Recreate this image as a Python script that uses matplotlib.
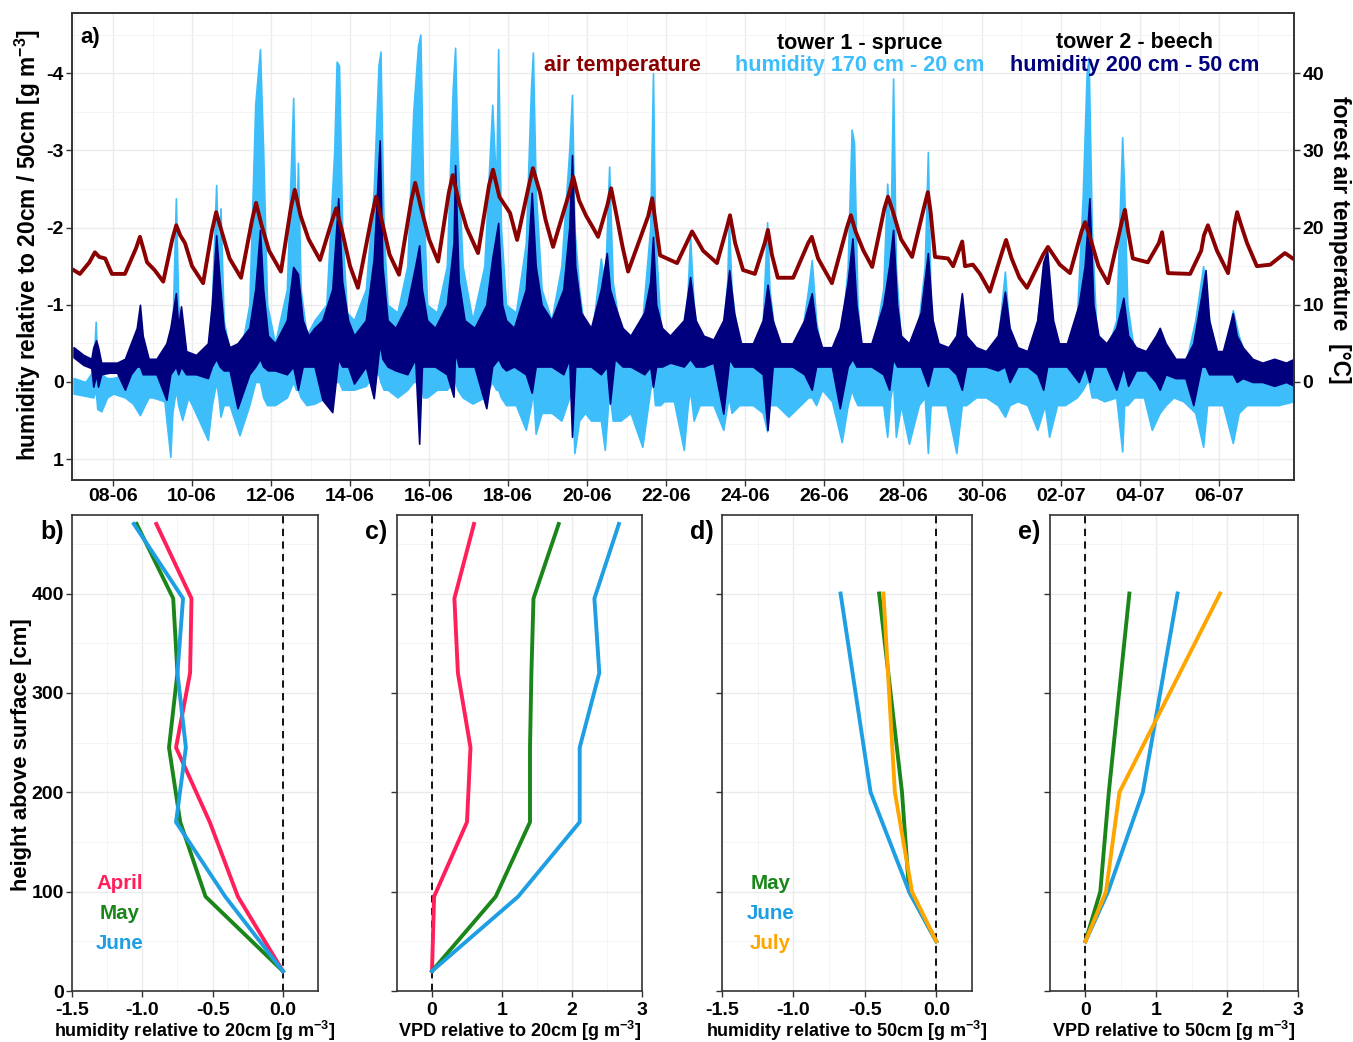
import matplotlib
matplotlib.use('Agg')
import matplotlib.pyplot as plt
import numpy as np

plt.rcParams['font.family'] = ['Liberation Sans', 'DejaVu Sans']
plt.rcParams['font.weight'] = 'bold'
plt.rcParams['axes.labelweight'] = 'bold'
plt.rcParams['mathtext.default'] = 'regular'

# ---------------- panel a : time series (days since 07-06) ----------------
date_ticks = [1, 3, 5, 7, 9, 11, 13, 15, 17, 19, 21, 23, 25, 27, 29]
date_labels = ['08-06', '10-06', '12-06', '14-06', '16-06', '18-06', '20-06', '22-06',
               '24-06', '26-06', '28-06', '30-06', '02-07', '04-07', '06-07']

# forest air temperature [°C]
temp_t = [0.0, 0.16, 0.4, 0.54, 0.65, 0.8, 0.97,
          1.3, 1.58, 1.68, 1.78, 1.86, 2.05,
          2.27, 2.5, 2.6, 2.7, 2.82, 3.0,
          3.28, 3.5, 3.61, 3.75, 3.95,
          4.24, 4.52, 4.62, 4.75, 4.95,
          5.25, 5.5, 5.6, 5.75, 5.95,
          6.24, 6.55, 6.65, 6.8, 7.0,
          7.2, 7.55, 7.66, 7.8, 8.0,
          8.24, 8.55, 8.65, 8.8, 9.0,
          9.23, 9.5, 9.6, 9.75, 9.95,
          10.24, 10.52, 10.62, 10.78, 11.05,
          11.23, 11.53, 11.63, 11.81, 11.95,
          12.14, 12.55, 12.65, 12.8, 12.98, 13.15,
          13.28, 13.52, 13.61, 13.75, 13.9,
          14.04, 14.55, 14.65, 14.85,
          15.28, 15.66, 15.94,
          16.29, 16.54, 16.62, 16.75, 16.95,
          17.25, 17.5, 17.58, 17.68, 17.83,
          18.22, 18.6, 18.69, 18.85,
          19.2, 19.58, 19.68, 19.8, 20.0,
          20.22, 20.53, 20.62, 20.75, 20.95,
          21.23, 21.55, 21.63, 21.7, 21.81,
          22.14, 22.27, 22.5, 22.57, 22.77, 22.95,
          23.2, 23.52, 23.61, 23.75, 23.95,
          24.14, 24.55, 24.67, 24.97,
          25.23, 25.52, 25.61, 25.75, 25.95,
          26.19, 26.55, 26.62, 26.7, 26.82,
          27.2, 27.48, 27.56, 27.64, 27.71,
          28.27, 28.55, 28.62, 28.72, 28.95,
          29.23, 29.4, 29.46, 29.55, 29.71, 29.96,
          30.3, 30.67, 30.87]
temp_v = [14.5, 14.0, 15.5, 16.8, 16.2, 16.0, 14.0,
          14.0, 17.3, 18.8, 17.0, 15.5, 14.5,
          13.0, 18.5, 20.3, 19.0, 18.0, 15.0,
          12.8, 19.5, 22.0, 19.5, 16.0,
          13.5, 21.0, 23.2, 20.5, 17.0,
          14.3, 22.5, 24.9, 21.5, 18.5,
          15.8, 21.0, 22.5, 19.5, 15.0,
          12.2, 21.5, 24.0, 21.0, 16.5,
          13.9, 23.5, 25.8, 22.5, 18.5,
          15.6, 24.5, 26.8, 23.5, 20.0,
          16.7, 25.5, 27.5, 24.0, 21.9,
          18.4, 25.5, 27.7, 24.5, 21.0,
          17.5, 24.5, 26.6, 23.5, 21.5, 20.0,
          18.8, 23.0, 25.1, 21.5, 17.5,
          14.3, 21.5, 23.8, 16.4,
          15.4, 19.5, 17.0,
          15.4, 20.0, 21.6, 18.0, 14.5,
          14.0, 18.0, 19.7, 16.5, 13.5,
          13.5, 18.0, 18.8, 16.0,
          12.8, 20.0, 21.6, 19.5, 17.0,
          14.9, 22.5, 24.0, 22.0, 18.5,
          16.2, 23.0, 24.6, 22.0, 16.2,
          16.0, 15.0, 18.2, 15.0, 15.2, 14.0,
          11.7, 17.0, 18.4, 16.0, 13.5,
          12.2, 16.5, 17.5, 15.2,
          14.1, 19.5, 20.7, 18.5, 15.0,
          12.8, 21.0, 22.3, 19.5, 16.0,
          15.5, 18.0, 19.4, 16.5, 14.1,
          14.0, 17.0, 19.0, 20.3, 17.0,
          14.1, 20.5, 22.0, 20.5, 18.0, 15.0,
          15.2, 16.7, 16.0]

# tower 1 (spruce): humidity 170 cm - 20 cm, upper / lower envelope
spruce_t = [0.0, 0.3, 0.5, 0.56, 0.6, 0.7, 0.85,
            1.0, 1.3, 1.5, 1.68, 1.8, 1.9,
            2.0, 2.3, 2.45, 2.5, 2.59, 2.65, 2.75, 2.9,
            3.0, 3.4, 3.5, 3.61, 3.67, 3.72, 3.8, 3.95,
            4.2, 4.45, 4.6, 4.72, 4.8, 4.9,
            5.1, 5.4, 5.56, 5.63, 5.68, 5.75, 5.9,
            6.1, 6.4, 6.6, 6.66, 6.72, 6.8, 6.92,
            7.1, 7.4, 7.6, 7.72, 7.77, 7.85, 7.95,
            8.2, 8.45, 8.6, 8.72, 8.78, 8.85, 8.95,
            9.2, 9.45, 9.6, 9.66, 9.72, 9.85,
            10.1, 10.4, 10.6, 10.7, 10.75, 10.82, 10.95,
            11.2, 11.45, 11.58, 11.63, 11.7, 11.85,
            12.1, 12.35, 12.55, 12.62, 12.68, 12.8, 12.95,
            13.1, 13.35, 13.45, 13.56, 13.65, 13.85,
            14.1, 14.4, 14.6, 14.67, 14.72, 14.85, 14.95,
            15.2, 15.45, 15.55, 15.61, 15.7, 15.85,
            16.2, 16.45, 16.55, 16.59, 16.66, 16.85,
            17.2, 17.45, 17.56, 17.62, 17.8,
            18.1, 18.4, 18.6, 18.69, 18.8, 18.95,
            19.2, 19.45, 19.6, 19.7, 19.76, 19.85, 19.95,
            20.2, 20.5, 20.6, 20.68, 20.75, 20.82, 20.95,
            21.15, 21.4, 21.55, 21.63, 21.7, 21.85,
            22.1, 22.35, 22.49, 22.6, 22.85,
            23.1, 23.4, 23.58, 23.7, 23.9,
            24.15, 24.4, 24.59, 24.7, 24.9,
            25.1, 25.4, 25.55, 25.65, 25.7, 25.78, 25.9,
            26.1, 26.4, 26.55, 26.6, 26.68, 26.85,
            27.1, 27.3, 27.5, 27.65, 27.85,
            28.1, 28.4, 28.6, 28.7, 28.9,
            29.1, 29.35, 29.5, 29.7, 29.9,
            30.2, 30.5, 30.9]
spruce_hi = [-0.05, 0.0, -0.15, -0.78, -0.2, -0.1, -0.05,
             -0.05, -0.1, -0.2, -0.3, -0.25, -0.1,
             -0.1, -0.2, -0.3, -0.6, -2.38, -1.0, -0.5, -0.2,
             -0.2, -0.4, -1.0, -2.55, -1.5, -2.25, -0.8, -0.4,
             -0.3, -1.0, -3.6, -4.31, -3.0, -1.0,
             -0.5, -1.2, -3.68, -1.8, -2.84, -1.2, -0.6,
             -0.8, -1.0, -3.0, -4.15, -4.1, -2.0, -0.9,
             -0.8, -1.2, -2.5, -4.1, -4.28, -2.0, -1.0,
             -0.9, -1.5, -3.5, -4.35, -4.5, -2.5, -1.0,
             -0.9, -1.5, -3.8, -4.33, -3.0, -1.5,
             -0.8, -1.5, -3.59, -2.5, -4.31, -2.0, -1.0,
             -0.9, -1.8, -3.8, -4.27, -2.5, -1.2,
             -0.8, -1.5, -3.0, -3.72, -2.0, -1.2, -0.6,
             -0.5, -1.6, -1.2, -2.79, -1.3, -0.6,
             -0.4, -0.8, -2.0, -4.0, -2.0, -0.8, -0.3,
             -0.2, -0.5, -1.2, -1.88, -1.0, -0.4,
             -0.2, -0.7, -1.3, -2.1, -1.2, -0.4,
             -0.2, -0.8, -2.07, -1.2, -0.4,
             -0.2, -0.5, -1.2, -1.58, -0.8, -0.3,
             -0.2, -0.6, -1.5, -3.27, -3.1, -1.0, -0.4,
             -0.3, -1.2, -2.57, -1.8, -3.93, -1.5, -0.5,
             -0.4, -0.8, -1.5, -2.98, -1.0, -0.4,
             -0.2, -0.5, -1.0, -0.5, -0.2,
             -0.2, -0.5, -1.43, -0.6, -0.2,
             -0.2, -0.8, -1.6, -0.8, -0.3,
             -0.2, -0.8, -2.4, -4.0, -4.2, -2.0, -0.6,
             -0.3, -0.8, -3.17, -2.5, -1.0, -0.4,
             -0.2, -0.3, -0.7, -0.4, -0.2,
             -0.1, -0.8, -1.5, -1.0, -0.3,
             -0.2, -0.93, -0.6, -0.3, -0.1,
             0.0, -0.1, 0.0]
spruce_lo = [0.15, 0.18, 0.2, 0.1, 0.35, 0.38, 0.2,
             0.15, 0.2, 0.28, 0.43, 0.3, 0.2,
             0.2, 0.25, 0.97, 0.4, 0.1, 0.3, 0.49, 0.2,
             0.3, 0.75, 0.3, 0.0, 0.2, 0.45, 0.3, 0.3,
             0.69, 0.3, 0.0, 0.0, 0.2, 0.3,
             0.3, 0.2, 0.0, 0.1, 0.1, 0.2, 0.3,
             0.28, 0.2, 0.0, 0.0, 0.0, 0.1, 0.1,
             0.1, 0.05, -0.1, -0.1, 0.0, 0.1, 0.1,
             0.2, 0.1, 0.0, 0.0, 0.0, 0.2, 0.2,
             0.1, 0.1, 0.0, 0.0, 0.1, 0.2,
             0.28, 0.2, 0.0, 0.1, 0.1, 0.2, 0.3,
             0.3, 0.62, 0.3, 0.1, 0.67, 0.4,
             0.4, 0.5, 0.2, 0.1, 0.92, 0.5, 0.4,
             0.5, 0.5, 0.88, 0.1, 0.5, 0.5,
             0.4, 0.84, 0.1, 0.0, 0.3, 0.3, 0.25,
             0.25, 0.88, 0.3, 0.1, 0.5, 0.3,
             0.3, 0.62, 0.3, 0.2, 0.4, 0.3,
             0.3, 0.4, 0.64, 0.3, 0.3,
             0.45, 0.3, 0.2, 0.2, 0.3, 0.1,
             0.25, 0.78, 0.3, 0.1, 0.2, 0.3, 0.3,
             0.3, 0.3, 0.71, 0.2, 0.0, 0.71, 0.3,
             0.8, 0.3, 0.2, 0.92, 0.3, 0.3,
             0.3, 0.92, 0.3, 0.3, 0.2,
             0.2, 0.3, 0.45, 0.3, 0.25,
             0.3, 0.62, 0.3, 0.71, 0.3,
             0.3, 0.2, 0.1, 0.0, 0.0, 0.2, 0.2,
             0.25, 0.2, 0.9, 0.3, 0.3, 0.2,
             0.2, 0.62, 0.4, 0.3, 0.2,
             0.25, 0.4, 0.84, 0.3, 0.3,
             0.3, 0.79, 0.4, 0.3, 0.3,
             0.3, 0.3, 0.25]

# tower 2 (beech): humidity 200 cm - 50 cm, upper / lower envelope
beech_t = [0.0, 0.25, 0.45, 0.5, 0.57, 0.62, 0.7, 0.9,
           1.1, 1.3, 1.45, 1.6, 1.68, 1.75, 1.9,
           2.1, 2.35, 2.45, 2.59, 2.65, 2.72, 2.85,
           3.1, 3.4, 3.5, 3.61, 3.7, 3.8, 3.95,
           4.15, 4.45, 4.6, 4.72, 4.8, 4.92,
           5.1, 5.4, 5.56, 5.68, 5.8, 5.95,
           6.1, 6.3, 6.55, 6.7, 6.8, 6.95,
           7.1, 7.4, 7.6, 7.75, 7.82, 7.95,
           8.15, 8.45, 8.65, 8.75, 8.82, 8.95,
           9.15, 9.45, 9.62, 9.66, 9.75, 9.9,
           10.15, 10.45, 10.6, 10.75, 10.85, 10.95,
           11.15, 11.45, 11.6, 11.7, 11.85,
           12.1, 12.4, 12.55, 12.62, 12.7, 12.85,
           13.1, 13.35, 13.5, 13.58, 13.7, 13.9,
           14.1, 14.45, 14.6, 14.67, 14.75, 14.9,
           15.1, 15.45, 15.61, 15.75, 15.95,
           16.2, 16.45, 16.6, 16.72, 16.9,
           17.2, 17.45, 17.57, 17.7, 17.9,
           18.2, 18.5, 18.69, 18.8, 18.95,
           19.2, 19.4, 19.6, 19.72, 19.82, 19.95,
           20.2, 20.5, 20.65, 20.75, 20.85, 20.95,
           21.15, 21.45, 21.63, 21.75, 21.9,
           22.15, 22.35, 22.49, 22.6, 22.85,
           23.1, 23.4, 23.58, 23.7, 23.9,
           24.15, 24.4, 24.55, 24.65, 24.8, 24.95,
           25.15, 25.45, 25.6, 25.72, 25.82, 25.95,
           26.15, 26.4, 26.58, 26.7, 26.9,
           27.15, 27.4, 27.5, 27.65, 27.9,
           28.15, 28.35, 28.55, 28.66, 28.75, 28.95,
           29.1, 29.35, 29.45, 29.6, 29.85,
           30.1, 30.4, 30.7, 30.9]
beech_hi = [-0.45, -0.35, -0.3, -0.45, -0.54, -0.45, -0.25, -0.25,
            -0.25, -0.3, -0.5, -0.7, -1.0, -0.6, -0.3,
            -0.3, -0.5, -0.7, -1.15, -0.7, -0.98, -0.4,
            -0.35, -0.5, -1.0, -1.9, -1.3, -0.7, -0.45,
            -0.5, -0.7, -1.2, -1.97, -1.2, -0.6,
            -0.5, -0.8, -1.49, -1.4, -0.8, -0.6,
            -0.7, -0.8, -1.2, -2.38, -1.3, -0.8,
            -0.6, -0.8, -1.6, -3.13, -1.5, -0.8,
            -0.7, -1.0, -1.5, -1.77, -1.2, -0.8,
            -0.7, -1.0, -1.8, -2.81, -1.3, -0.8,
            -0.7, -1.0, -1.6, -2.06, -1.0, -0.8,
            -0.7, -1.2, -2.45, -1.5, -1.0,
            -0.8, -1.2, -2.0, -2.94, -1.5, -0.9,
            -0.7, -1.2, -1.67, -1.2, -1.0, -0.7,
            -0.6, -0.9, -1.3, -1.88, -1.0, -0.7,
            -0.6, -0.8, -1.36, -0.8, -0.6,
            -0.55, -0.8, -1.45, -0.9, -0.5,
            -0.5, -0.8, -1.26, -0.8, -0.5,
            -0.5, -0.8, -1.15, -0.7, -0.45,
            -0.45, -0.7, -1.3, -1.86, -1.0, -0.5,
            -0.5, -1.0, -1.5, -1.97, -1.0, -0.6,
            -0.5, -0.9, -1.67, -0.8, -0.5,
            -0.45, -0.6, -1.15, -0.6, -0.45,
            -0.4, -0.6, -1.17, -0.7, -0.45,
            -0.4, -0.8, -1.55, -1.7, -0.8, -0.5,
            -0.5, -1.0, -1.5, -2.38, -1.0, -0.6,
            -0.5, -0.7, -1.09, -0.6, -0.45,
            -0.4, -0.6, -0.7, -0.5, -0.3,
            -0.3, -0.5, -1.1, -1.45, -0.8, -0.4,
            -0.4, -0.89, -0.6, -0.45, -0.3,
            -0.25, -0.3, -0.25, -0.3]
beech_lo = [-0.32, -0.22, -0.18, 0.06, -0.1, 0.06, -0.1, -0.12,
            -0.12, 0.1, -0.1, -0.2, -0.2, -0.1, -0.1,
            -0.1, 0.23, -0.1, -0.2, -0.1, -0.2, -0.1,
            -0.1, -0.05, -0.2, -0.3, -0.2, -0.15, -0.15,
            0.34, -0.1, -0.2, -0.3, -0.2, -0.15,
            -0.15, -0.1, -0.2, 0.1, -0.2, -0.2,
            -0.2, 0.23, 0.39, -0.3, -0.2, -0.2,
            0.02, -0.2, 0.21, -0.5, -0.3, -0.2,
            -0.15, -0.1, -0.3, 0.8, -0.2, -0.2,
            -0.2, -0.1, 0.19, -0.4, -0.2, -0.2,
            -0.2, 0.34, -0.2, -0.3, -0.2, -0.15,
            -0.2, -0.1, 0.14, -0.2, -0.2,
            -0.2, -0.1, -0.3, 0.71, -0.2, -0.2,
            -0.2, -0.1, -0.2, 0.28, -0.3, -0.2,
            -0.2, -0.1, -0.2, 0.06, -0.2, -0.2,
            -0.25, -0.2, -0.3, -0.2, -0.2,
            -0.25, 0.41, -0.3, -0.2, -0.2,
            -0.2, -0.1, 0.62, -0.2, -0.2,
            -0.2, -0.1, 0.1, -0.2, -0.2,
            -0.2, 0.34, -0.2, -0.3, -0.2, -0.2,
            -0.2, -0.1, 0.1, -0.3, -0.2, -0.2,
            -0.2, -0.2, 0.05, -0.2, -0.2,
            -0.2, -0.1, 0.1, -0.2, -0.2,
            -0.2, -0.15, -0.2, 0.0, -0.2,
            -0.2, -0.1, 0.1, -0.2, -0.2, -0.2,
            -0.2, 0.0, -0.2, 0.0, -0.2, -0.2,
            -0.2, 0.1, -0.2, 0.05, -0.15,
            -0.15, 0.0, 0.1, -0.1, -0.05,
            -0.05, 0.3, -0.2, -0.2, -0.1, -0.1,
            -0.1, -0.1, 0.0, -0.05, 0.0,
            0.0, 0.05, 0.0, 0.05]

# ---------------- panels b-e : vertical profiles ----------------
heights_20 = [20, 95, 170, 245, 320, 395, 470]
heights_50 = [50, 100, 200, 400]

hum20_april = [0.0, -0.32, -0.52, -0.76, -0.66, -0.65, -0.90]
hum20_may = [0.0, -0.55, -0.73, -0.81, -0.75, -0.78, -1.04]
hum20_june = [0.0, -0.41, -0.76, -0.69, -0.75, -0.71, -1.06]

vpd20_april = [0.0, 0.03, 0.50, 0.55, 0.37, 0.32, 0.60]
vpd20_may = [0.0, 0.91, 1.40, 1.40, 1.42, 1.45, 1.81]
vpd20_june = [0.0, 1.23, 2.11, 2.11, 2.39, 2.32, 2.67]

hum50_may = [0.0, -0.19, -0.24, -0.40]
hum50_june = [0.0, -0.19, -0.46, -0.67]
hum50_july = [0.0, -0.17, -0.29, -0.37]

vpd50_may = [0.0, 0.21, 0.33, 0.62]
vpd50_june = [0.0, 0.32, 0.81, 1.30]
vpd50_july = [0.0, 0.29, 0.48, 1.90]

c_temp = '#8B0000'
c_spruce = '#3DBEFB'
c_beech = '#00007F'
c_april = '#FF1F5B'
c_may = '#1A861A'
c_june = '#1E9EE3'
c_july = '#FFA500'
grid_major = '#EBEBEB'
grid_minor = '#F4F4F4'

W, H = 1353, 1042
fig = plt.figure(figsize=(W / 100, H / 100), dpi=100)


def style_axes(ax, size=14):
    ax.grid(which='major', color=grid_major, lw=1.0)
    ax.grid(which='minor', color=grid_minor, lw=0.7)
    ax.set_axisbelow(True)
    ax.tick_params(which='major', length=4, width=1, color='#333333', labelsize=size,
                   labelcolor='black', pad=2)
    ax.tick_params(which='minor', length=0)
    for s in ax.spines.values():
        s.set_color('#333333')
        s.set_linewidth(1.2)


# ---- panel a
ax = fig.add_axes([72 / W, 1 - 480 / H, (1294 - 72) / W, (480 - 13) / H])
ax.fill_between(spruce_t, spruce_lo, spruce_hi, color=c_spruce, lw=1.2, edgecolor=c_spruce)
ax.fill_between(beech_t, beech_lo, beech_hi, color=c_beech, lw=1.2, edgecolor=c_beech)
ax.set_xlim(-0.04, 30.9)
ax.set_ylim(1.27, -4.78)
ax.set_yticks([-4, -3, -2, -1, 0, 1])
ax.set_yticklabels(['-4', '-3', '-2', '-1', '0', '1'])
ax.set_yticks(np.arange(-4.5, 1.0, 1.0), minor=True)
ax.set_xticks(date_ticks)
ax.set_xticklabels(date_labels)
ax.set_xticks(np.arange(0, 31, 2), minor=True)
style_axes(ax)

ax2 = ax.twinx()
ax2.plot(temp_t, temp_v, color=c_temp, lw=2.8, solid_joinstyle='round')
ax2.set_ylim(-12.7, 47.8)
ax2.set_yticks([0, 10, 20, 30, 40])
ax2.tick_params(length=4, width=1, color='#333333', labelsize=14, pad=2)
for s in ax2.spines.values():
    s.set_color('#333333')
    s.set_linewidth(1.2)

fig.text(80 / W, 1 - 37 / H, 'a)', fontsize=16, ha='left', va='center')
fig.text(622 / W, 1 - 66 / H, 'air temperature', color=c_temp, fontsize=15.5,
         ha='center', va='center')
fig.text(860 / W, 1 - 43 / H, 'tower 1 - spruce', color='black', fontsize=15.5,
         ha='center', va='center')
fig.text(860 / W, 1 - 66 / H, 'humidity 170 cm - 20 cm', color=c_spruce, fontsize=15.5,
         ha='center', va='center')
fig.text(1135 / W, 1 - 43 / H, 'tower 2 - beech', color='black', fontsize=15.5,
         ha='center', va='center')
fig.text(1135 / W, 1 - 66 / H, 'humidity 200 cm - 50 cm', color=c_beech, fontsize=15.5,
         ha='center', va='center')
fig.text(28 / W, 1 - 245 / H, 'humidity relative to 20cm / 50cm [g m$^{-3}$]',
         rotation=90, fontsize=16.4, ha='center', va='center')
fig.text(1340 / W, 1 - 240 / H, 'forest air temperature  [°C]',
         rotation=270, fontsize=16.4, ha='center', va='center')

# ---- panels b-e
panels = [
    ('b)', 72, 318, heights_20, [hum20_april, hum20_may, hum20_june], [c_april, c_may, c_june],
     (-1.5, 0.25), 'humidity relative to 20cm [g m$^{-3}$]', ['April', 'May', 'June']),
    ('c)', 397, 642, heights_20, [vpd20_april, vpd20_may, vpd20_june], [c_april, c_may, c_june],
     (-0.5, 3.0), 'VPD relative to 20cm [g m$^{-3}$]', None),
    ('d)', 722, 972, heights_50, [hum50_may, hum50_june, hum50_july], [c_may, c_june, c_july],
     (-1.5, 0.25), 'humidity relative to 50cm [g m$^{-3}$]', ['May', 'June', 'July']),
    ('e)', 1050, 1298, heights_50, [vpd50_may, vpd50_june, vpd50_july], [c_may, c_june, c_july],
     (-0.5, 3.0), 'VPD relative to 50cm [g m$^{-3}$]', None),
]

for i, (tag, x0, x1, hts, series, cols, xlim, xlabel, names) in enumerate(panels):
    axp = fig.add_axes([x0 / W, 1 - 991 / H, (x1 - x0) / W, (991 - 515) / H])
    axp.axvline(0, color='black', ls=(0, (4, 3)), lw=1.3, zorder=1)
    for vals, col in zip(series, cols):
        axp.plot(vals, hts, color=col, lw=2.8, zorder=2)
    axp.set_xlim(*xlim)
    axp.set_ylim(0, 479)
    axp.set_yticks([0, 100, 200, 300, 400])
    axp.set_yticks([50, 150, 250, 350, 450], minor=True)
    if xlim[0] < -1:
        axp.set_xticks([-1.5, -1.0, -0.5, 0.0])
        axp.set_xticklabels(['-1.5', '-1.0', '-0.5', '0.0'])
        axp.set_xticks([-1.25, -0.75, -0.25], minor=True)
    else:
        axp.set_xticks([0, 1, 2, 3])
        axp.set_xticks([-0.5, 0.5, 1.5, 2.5], minor=True)
    style_axes(axp, size=14)
    axp.tick_params(axis='x', pad=4)
    if i > 0:
        axp.set_yticklabels([])
    axp.set_xlabel(xlabel, fontsize=13, labelpad=0)
    fig.text((x0 - 32) / W, 1 - 532 / H, tag, fontsize=18, ha='left', va='center')
    if names:
        for k, (nm, col) in enumerate(zip(names, cols)):
            axp.text(0.195, 0.225 - 0.063 * k, nm, color=col, fontsize=14.8,
                     ha='center', va='center', transform=axp.transAxes)

fig.text(22 / W, 1 - 755 / H, 'height above surface [cm]', rotation=90, fontsize=15.8,
         ha='center', va='center')

assert len(temp_t) == len(temp_v)
assert len(spruce_t) == len(spruce_hi) == len(spruce_lo)
assert len(beech_t) == len(beech_hi) == len(beech_lo)

fig.savefig('out.png', dpi=100)
plt.close(fig)
